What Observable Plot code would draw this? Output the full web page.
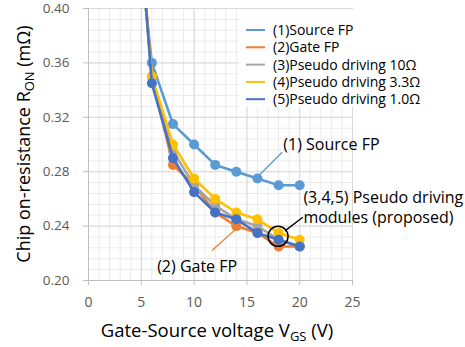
<!DOCTYPE html>
<html>
<head>
<meta charset="utf-8">
<script src="https://cdn.jsdelivr.net/npm/d3@7"></script>
<script src="https://cdn.jsdelivr.net/npm/@observablehq/plot@0.6"></script>
<style>
  html, body { margin: 0; padding: 0; background: #fff; }
  #chart svg { display: block; font-family: "Open Sans", "Noto Sans", sans-serif; }
</style>
</head>
<body>
<div id="chart"></div>
<script>
// ---- data ----
const volts     = [5, 6, 8, 10, 12, 14, 16, 18, 20];
const sourceFP  = [0.43, 0.36, 0.315, 0.30, 0.285, 0.28, 0.275, 0.27, 0.27];
const gateFP    = [0.445, 0.35, 0.285, 0.27, 0.25, 0.24, 0.235, 0.225, 0.225];
const pseudo10  = [0.445, 0.35, 0.295, 0.27, 0.255, 0.245, 0.24, 0.23, 0.225];
const pseudo33  = [0.44, 0.35, 0.30, 0.275, 0.26, 0.25, 0.245, 0.235, 0.23];
const pseudo1   = [0.445, 0.345, 0.29, 0.265, 0.25, 0.245, 0.235, 0.23, 0.225];

const seriesNames  = ["(1)Source FP", "(2)Gate FP", "(3)Pseudo driving 10Ω", "(4)Pseudo driving 3.3Ω", "(5)Pseudo driving 1.0Ω"];
const seriesValues = [sourceFP, gateFP, pseudo10, pseudo33, pseudo1];
const seriesColors = ["#5B9BD5", "#ED7D31", "#A5A5A5", "#FFC000", "#4472C4"];

const xTicks = [0, 5, 10, 15, 20, 25];
const yTicks = [0.20, 0.24, 0.28, 0.32, 0.36, 0.40];

// annotations (data units)
const noteSource = {x: 18.45, y: 0.300, text: "(1) Source FP", x1: 18.34, y1: 0.2943, x2: 16.13, y2: 0.2772};
const noteGate   = {x: 6.5, y: 0.2103, text: "(2) Gate FP", x1: 11.7, y1: 0.222, x2: 14.08, y2: 0.2387};
const notePseudo = {x: 20.35, y: 0.2544, text: "(3,4,5) Pseudo driving\nmodules (proposed)", x1: 18.6, y1: 0.2365, x2: 20.3, y2: 0.2465};
const circleAt   = {x: 17.95, y: 0.2325};

const rows = [];
seriesValues.forEach((vals, i) => vals.forEach((v, j) => rows.push({series: seriesNames[i], x: volts[j], y: v, k: i})));

const minorX = d3.range(1, 25);
const minorY = d3.range(0.208, 0.4, 0.008);

const marks = [
  Plot.ruleX(minorX, {stroke: "#ebebeb", strokeWidth: 1}),
  Plot.ruleY(minorY, {stroke: "#ebebeb", strokeWidth: 1}),
  Plot.ruleX(xTicks.slice(1), {stroke: "#d9d9d9", strokeWidth: 1}),
  Plot.ruleY(yTicks.slice(1), {stroke: "#d9d9d9", strokeWidth: 1}),
  Plot.ruleX([0], {stroke: "#bfbfbf", strokeWidth: 1}),
  Plot.ruleY([0.2], {stroke: "#bfbfbf", strokeWidth: 1}),
  Plot.axisX({ticks: xTicks, tickSize: 5, tickPadding: 12, tickFormat: d => String(d), fontSize: 14, color: "#595959", stroke: "#bfbfbf", label: null}),
  Plot.axisY({ticks: yTicks, tickSize: 5, tickPadding: 14, tickFormat: d3.format(".2f"), fontSize: 13.5, color: "#595959", stroke: "#bfbfbf", label: null})
];

seriesValues.forEach((vals, i) => {
  const data = rows.filter(r => r.k === i);
  marks.push(Plot.line(data, {x: "x", y: "y", stroke: seriesColors[i], strokeWidth: 2.6, clip: true}));
  marks.push(Plot.dot(data, {x: "x", y: "y", fill: seriesColors[i], r: 5, clip: true}));
});

marks.push(
  Plot.link([noteSource], {x1: "x1", y1: "y1", x2: "x2", y2: "y2", stroke: "#5B9BD5", strokeWidth: 1.3}),
  Plot.link([noteGate], {x1: "x1", y1: "y1", x2: "x2", y2: "y2", stroke: "#ED7D31", strokeWidth: 1.3}),
  Plot.link([notePseudo], {x1: "x1", y1: "y1", x2: "x2", y2: "y2", stroke: "#000", strokeWidth: 1.3}),
  Plot.dot([circleAt], {x: "x", y: "y", r: 10, fill: "none", stroke: "#000", strokeWidth: 1.5}),
  Plot.text([noteSource], {x: "x", y: "y", text: "text", textAnchor: "start", fontSize: 16, fill: "#000"}),
  Plot.text([noteGate], {x: "x", y: "y", text: "text", textAnchor: "start", fontSize: 16, fill: "#000"}),
  Plot.text([notePseudo], {x: "x", y: "y", text: "text", textAnchor: "start", lineAnchor: "middle", lineHeight: 1.25, fontSize: 16, fill: "#000"})
);

const chart = Plot.plot({
  width: 465,
  height: 347,
  marginLeft: 88,
  marginRight: 113,
  marginTop: 8,
  marginBottom: 67,
  style: {fontFamily: "'Open Sans', 'Noto Sans', sans-serif", background: "#fff", overflow: "visible"},
  x: {domain: [0, 25]},
  y: {domain: [0.2, 0.4]},
  marks
});

document.getElementById("chart").appendChild(chart);

// ---- legend and axis titles (need subscripts) ----
const svg = d3.select(chart);
const lg = svg.append("g").attr("text-anchor", "start");
lg.append("rect").attr("x", 239).attr("y", 9).attr("width", 210).attr("height", 98).attr("fill", "#fff");
seriesNames.forEach((name, i) => {
  const y = 30 + i * 17.3;
  lg.append("line").attr("x1", 246).attr("x2", 265).attr("y1", y).attr("y2", y)
    .attr("stroke", seriesColors[i]).attr("stroke-width", 2);
  lg.append("text").attr("x", 273).attr("y", y).attr("dy", "0.35em").attr("text-anchor", "start")
    .style("font-size", "14px").attr("fill", "#000").text(name);
});

const xt = svg.append("text").attr("x", 217).attr("y", 337).attr("text-anchor", "middle")
  .style("font-size", "18.5px").attr("fill", "#000");
xt.append("tspan").text("Gate-Source voltage V");
xt.append("tspan").attr("dy", 4).style("font-size", "13px").text("GS");
xt.append("tspan").attr("dy", -4).text(" (V)");

const yt = svg.append("text").attr("transform", "translate(30,144) rotate(-90)").attr("text-anchor", "middle")
  .style("font-size", "18px").attr("fill", "#000");
yt.append("tspan").text("Chip on-resistance R");
yt.append("tspan").attr("dy", 4).style("font-size", "13px").text("ON");
yt.append("tspan").attr("dy", -4).text(" (mΩ)");
</script>
</body>
</html>
